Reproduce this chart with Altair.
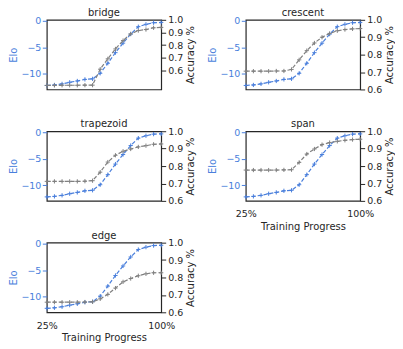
import altair as alt
import pandas as pd

BLUE = "#4a7fdc"
GRAY = "#808080"
DARK = "#262626"

progress = [25, 30, 35, 40, 45, 50, 55, 60, 65, 70, 75, 80, 85, 90, 95, 100]
elo = [-12.2, -12.1, -11.9, -11.6, -11.35, -11.05, -10.95, -9.9, -8.0, -6.0,
       -4.2, -2.5, -1.1, -0.65, -0.35, -0.3]

tasks = ["bridge", "crescent", "trapezoid", "span", "edge"]
acc_bridge = [0.482, 0.482, 0.483, 0.483, 0.483, 0.484, 0.484, 0.61, 0.692,
              0.77, 0.836, 0.889, 0.915, 0.923, 0.937, 0.94]
acc_crescent = [0.705, 0.705, 0.705, 0.705, 0.706, 0.706, 0.715, 0.77, 0.823,
                0.867, 0.9, 0.922, 0.937, 0.944, 0.948, 0.95]
acc_trapezoid = [0.712, 0.712, 0.712, 0.712, 0.712, 0.713, 0.716, 0.765, 0.823,
                 0.862, 0.885, 0.898, 0.91, 0.917, 0.925, 0.927]
acc_span = [0.777, 0.777, 0.777, 0.777, 0.777, 0.778, 0.779, 0.821, 0.869,
            0.898, 0.923, 0.935, 0.942, 0.948, 0.952, 0.954]
acc_edge = [0.658, 0.658, 0.658, 0.658, 0.658, 0.659, 0.66, 0.677, 0.703,
            0.739, 0.775, 0.794, 0.81, 0.821, 0.827, 0.827]
acc_all = [acc_bridge, acc_crescent, acc_trapezoid, acc_span, acc_edge]
acc_domains = [[0.45, 1.0], [0.6, 1.0], [0.6, 1.0], [0.6, 1.0], [0.6, 1.0]]
show_x = [False, False, False, True, True]

FONT = "DejaVu Sans"
PLUS = "M-1,0L1,0M0,-1L0,1"


def panel(i):
    df = pd.DataFrame({"progress": progress, "elo": elo, "acc": acc_all[i]})
    if show_x[i]:
        xaxis = alt.Axis(values=[25, 100], labelExpr="datum.value + '%'",
                         title="Training Progress", ticks=False, grid=False,
                         domain=False, labelFlush=False, labelOverlap=False,
                         labelFontSize=9.5, titleFontSize=10, labelPadding=8,
                         titlePadding=3, labelColor=DARK, titleColor=DARK,
                         titleFontWeight="normal", labelFont=FONT, titleFont=FONT)
    else:
        xaxis = None
    x = alt.X("progress:Q", scale=alt.Scale(domain=[25, 100], nice=False, zero=False),
              axis=xaxis)
    base = alt.Chart(df)
    yelo = alt.Y("elo:Q", scale=alt.Scale(domain=[-12.95, 0.2], nice=False, zero=False),
                 axis=alt.Axis(orient="left", values=[-10, -5, 0], title="Elo",
                               titleColor=BLUE, labelColor=BLUE, tickColor=BLUE,
                               grid=False, domain=False, tickSize=4.5, labelPadding=1.5,
                               labelFontSize=9.5, titleFontSize=10, titlePadding=2,
                               titleFontWeight="normal", labelFont=FONT, titleFont=FONT))
    yacc = alt.Y("acc:Q", scale=alt.Scale(domain=acc_domains[i], nice=False, zero=False),
                 axis=alt.Axis(orient="right", values=[0.6, 0.7, 0.8, 0.9, 1.0],
                               format=".1f", title="Accuracy %", titleAngle=270,
                               titleBaseline="top",
                               titleColor=DARK, labelColor=DARK, tickColor=DARK,
                               grid=False, domain=False, tickSize=4.5, labelPadding=2,
                               labelFontSize=9.5, titleFontSize=10, titlePadding=2.5,
                               titleFontWeight="normal", labelFont=FONT, titleFont=FONT))
    elo_layer = alt.layer(
        base.mark_line(color=BLUE, strokeDash=[4, 2], strokeWidth=1.2).encode(x=x, y=yelo),
        base.mark_point(shape=PLUS, color=BLUE, filled=False, size=18, strokeWidth=1,
                        opacity=1).encode(x=x, y=yelo),
    )
    acc_layer = alt.layer(
        base.mark_line(color=GRAY, strokeDash=[4, 2], strokeWidth=1.2).encode(x=x, y=yacc),
        base.mark_point(shape=PLUS, color=GRAY, filled=False, size=18, strokeWidth=1,
                        opacity=1).encode(x=x, y=yacc),
    )
    return alt.layer(elo_layer, acc_layer).resolve_scale(y="independent").properties(
        width=115, height=70,
        title=alt.TitleParams(tasks[i], fontSize=10, font=FONT, fontWeight="normal",
                              color=DARK, offset=-3),
    )


chart = alt.concat(*[panel(i) for i in range(5)], columns=2,
                   spacing={"row": 42, "column": 85}, bounds="flush").properties(
    padding={"left": 0, "top": -2, "right": 0, "bottom": 0}
).configure_view(stroke=DARK, strokeWidth=1.2)

chart.save("out.html", embed_options={"renderer": "svg", "actions": False})
